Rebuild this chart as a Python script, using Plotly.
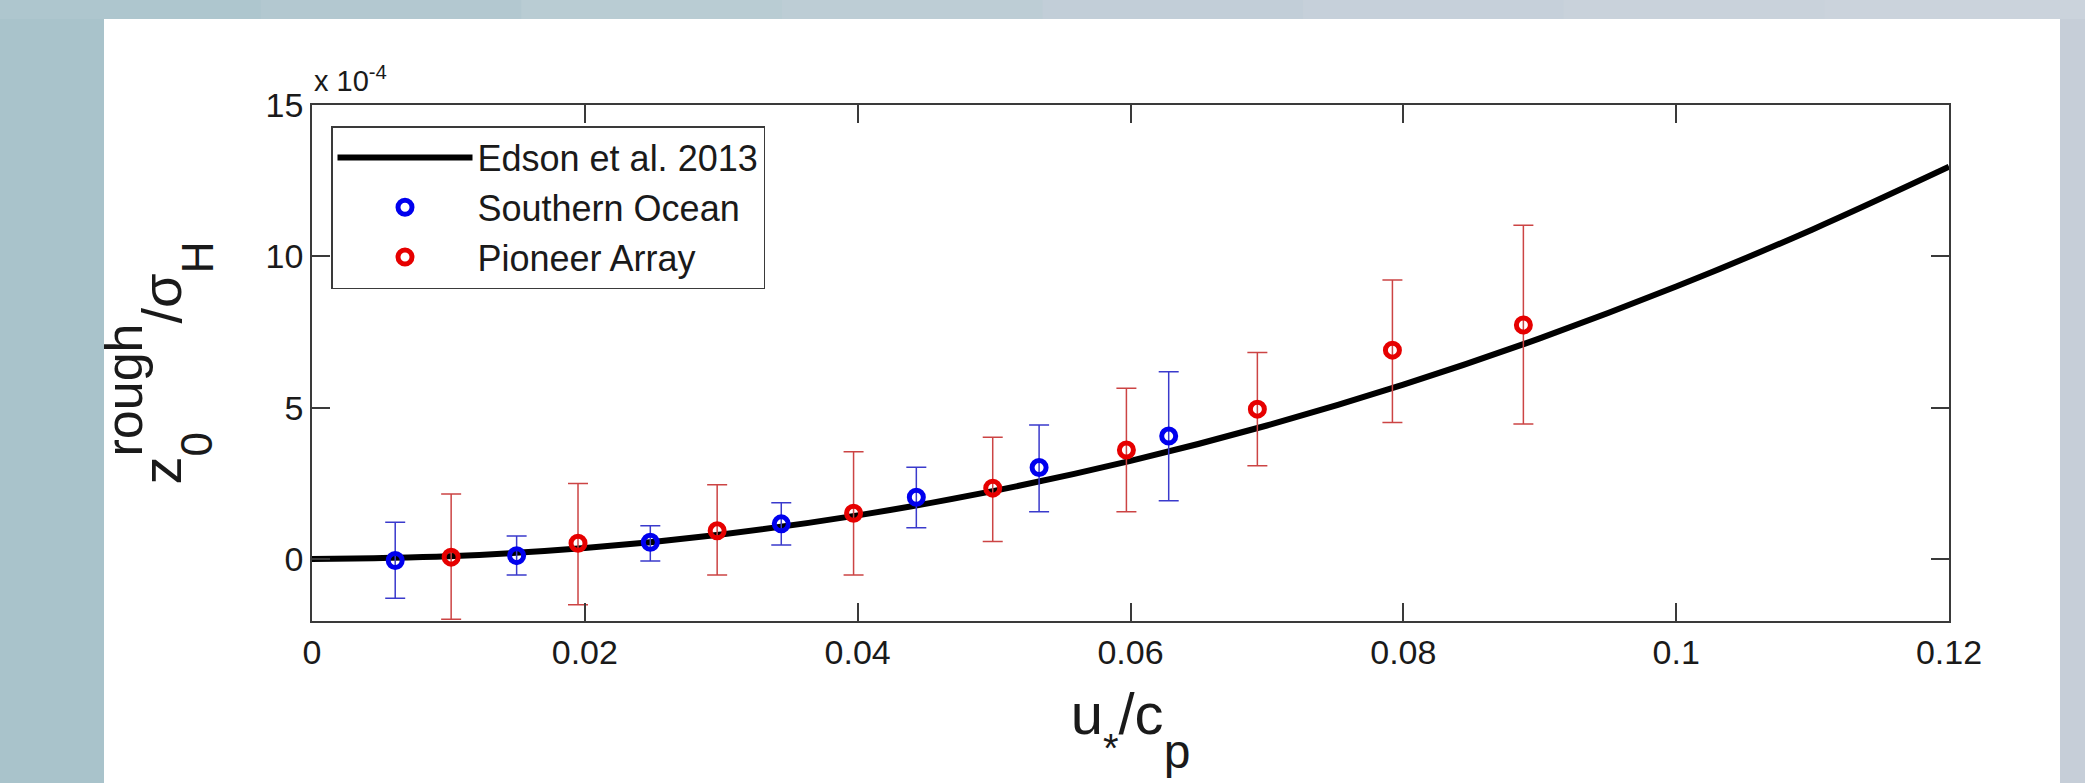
import plotly.graph_objects as go

# ---------------- data (y in units of 1e-4) ----------------
curve_x = [0, 0.01, 0.02, 0.03, 0.04, 0.05, 0.06, 0.07, 0.08, 0.09, 0.10, 0.11, 0.12]
curve_y = [0, 0.09, 0.36, 0.81, 1.44, 2.25, 3.24, 4.41, 5.76, 7.29, 9.0, 10.89, 12.96]

so_x = [0.0061, 0.0150, 0.0248, 0.0344, 0.0443, 0.0533, 0.0628]
so_y = [-0.05, 0.11, 0.55, 1.16, 2.04, 3.02, 4.06]
so_err_plus = [1.26, 0.65, 0.55, 0.70, 0.99, 1.41, 2.13]
so_err_minus = [1.25, 0.64, 0.62, 0.70, 1.01, 1.46, 2.14]

pa_x = [0.0102, 0.0195, 0.0297, 0.0397, 0.0499, 0.0597, 0.0693, 0.0792, 0.0888]
pa_y = [0.06, 0.52, 0.93, 1.51, 2.34, 3.60, 4.95, 6.90, 7.73]
pa_err_plus = [2.09, 1.97, 1.52, 2.03, 1.68, 2.04, 1.87, 2.32, 3.30]
pa_err_minus = [2.05, 2.03, 1.46, 2.04, 1.76, 2.04, 1.87, 2.39, 3.27]

x_ticks = [0, 0.02, 0.04, 0.06, 0.08, 0.1, 0.12]
x_ticklabels = ["0", "0.02", "0.04", "0.06", "0.08", "0.1", "0.12"]
y_ticks = [0, 5, 10, 15]
y_ticklabels = ["0", "5", "10", "15"]

# ---------------- geometry ----------------
W, H = 2085, 783
L, R, T, B = 312, 1949, 105, 621
PW, PH = R - L, B - T
FONT = "Arial, Liberation Sans, sans-serif"


def px(xp):
    return (xp - L) / PW


def py(yp):
    return (B - yp) / PH


fig = go.Figure()

fig.add_trace(go.Scatter(
    x=curve_x, y=curve_y, mode="lines", name="Edson et al. 2013",
    line=dict(color="black", width=6, shape="spline"),
))
fig.add_trace(go.Scatter(
    x=so_x, y=so_y, mode="markers", name="Southern Ocean",
    marker=dict(symbol="circle-open", size=14, color="#0000ee", line=dict(width=5, color="#0000ee")),
    error_y=dict(type="data", symmetric=False, array=so_err_plus, arrayminus=so_err_minus,
                 color="#3a3acc", thickness=1.5, width=10),
))
fig.add_trace(go.Scatter(
    x=pa_x, y=pa_y, mode="markers", name="Pioneer Array",
    marker=dict(symbol="circle-open", size=14, color="#e60000", line=dict(width=5, color="#e60000")),
    error_y=dict(type="data", symmetric=False, array=pa_err_plus, arrayminus=pa_err_minus,
                 color="#cc4444", thickness=1.5, width=10),
))

# background decoration
shapes = []
top_cols = ["#aec6ce", "#b3c8d0", "#b9ccd3", "#bdcdd5", "#c2ced8", "#c6d0da", "#c9d2db", "#cbd3dc"]
seg = W / len(top_cols)
for i, c in enumerate(top_cols):
    shapes.append(dict(type="rect", xref="paper", yref="paper", layer="below",
                       x0=px(i * seg), x1=px((i + 1) * seg + 1), y0=py(19), y1=py(0),
                       fillcolor=c, line=dict(width=0)))
shapes.append(dict(type="rect", xref="paper", yref="paper", layer="below",
                   x0=px(0), x1=px(104), y0=py(H), y1=py(19),
                   fillcolor="#a9c3cb", line=dict(width=0)))
shapes.append(dict(type="rect", xref="paper", yref="paper", layer="below",
                   x0=px(2060), x1=px(W), y0=py(H), y1=py(19),
                   fillcolor="#c6ced8", line=dict(width=0)))
shapes.append(dict(type="rect", xref="paper", yref="paper", layer="below",
                   x0=px(104), x1=px(2060), y0=py(H), y1=py(19),
                   fillcolor="white", line=dict(width=0)))

axis_common = dict(
    showline=True, linecolor="#3a3a3a", linewidth=1.5, mirror="ticks",
    ticks="inside", ticklen=18, tickwidth=1.5, tickcolor="#3a3a3a",
    showgrid=False, zeroline=False,
    tickfont=dict(family=FONT, size=34, color="#1a1a1a"),
)

x_title = ("u<span style='font-size:40px;baseline-shift:-0.7em'>*</span>/c"
           "<span style='font-size:48px;baseline-shift:-0.7em'>p</span>")
y_title = ("z<span style='font-size:44px;baseline-shift:-0.7em;letter-spacing:-24.5px'>0</span>"
           "<span style='font-size:52px;baseline-shift:0.75em'>rough</span>/σ"
           "<span style='font-size:44px;baseline-shift:-0.72em'>H</span>")

fig.update_layout(
    width=W, height=H, autosize=False,
    margin=dict(l=L, r=W - R, t=T, b=H - B, pad=0),
    paper_bgcolor="#b8cad2", plot_bgcolor="white",
    shapes=shapes,
    font=dict(family=FONT, color="#1a1a1a"),
    xaxis=dict(range=[0, 0.12], tickvals=x_ticks, ticktext=x_ticklabels,
               title=dict(text=x_title, font=dict(family=FONT, size=58, color="#1a1a1a"), standoff=24),
               **axis_common),
    yaxis=dict(range=[-2.05, 15], tickvals=y_ticks, ticktext=y_ticklabels,
               title=dict(text=y_title, font=dict(family=FONT, size=56, color="#1a1a1a"), standoff=66),
               **axis_common),
    legend=dict(x=px(331), y=py(126), xanchor="left", yanchor="top",
                bgcolor="white", bordercolor="#3a3a3a", borderwidth=1.5,
                font=dict(family=FONT, size=36, color="#1a1a1a"),
                itemwidth=135, tracegroupgap=0),
    annotations=[dict(text="x 10<sup>-4</sup>", xref="paper", yref="paper", x=0, y=1,
                      xanchor="left", yanchor="bottom", yshift=6, showarrow=False,
                      font=dict(family=FONT, size=29, color="#1a1a1a"))],
    showlegend=True,
)

fig.write_html("out.html", config={"displayModeBar": False},
               post_script="document.body.style.margin='0';document.body.style.overflow='hidden';")
